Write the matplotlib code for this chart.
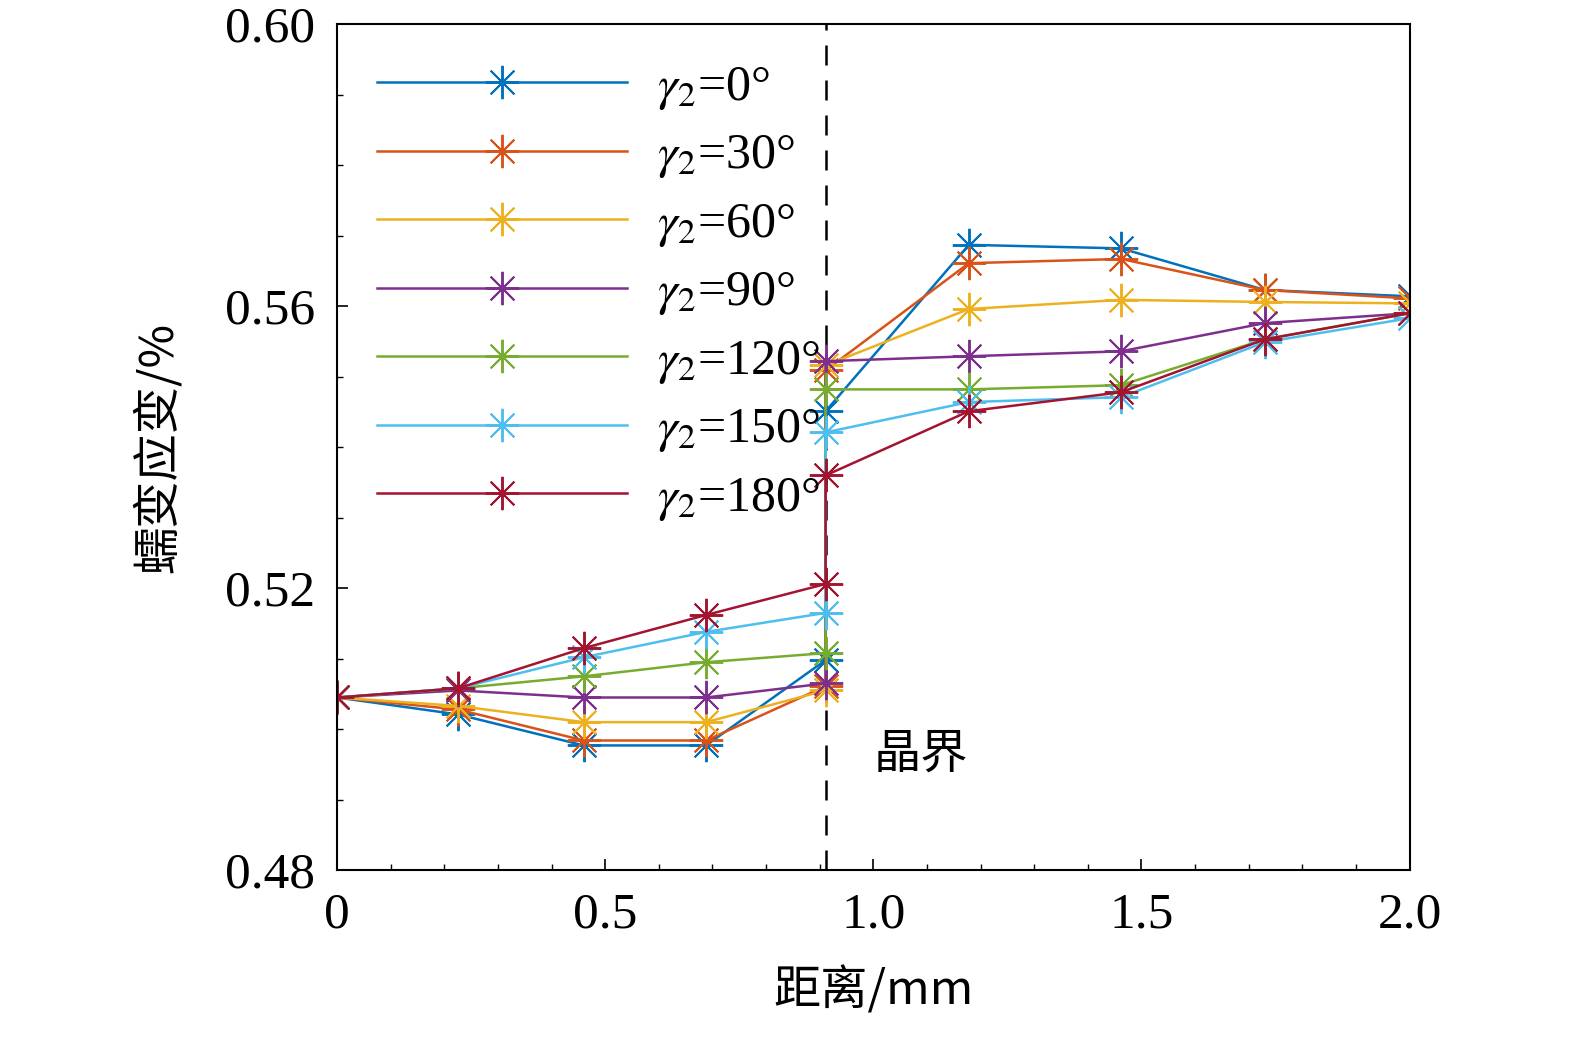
import matplotlib
matplotlib.use("Agg")
import matplotlib.pyplot as plt
from matplotlib.ticker import MultipleLocator

x = [0, 0.2255, 0.46, 0.688, 0.911, 0.911, 1.178, 1.462, 1.73, 2.0]
angles = ["0", "30", "60", "90", "120", "150", "180"]
s0 = [0.5045, 0.5021, 0.4977, 0.4977, 0.5098, 0.5451, 0.5687, 0.5682, 0.5623, 0.5614]
s30 = [0.5045, 0.5028, 0.4984, 0.4984, 0.5061, 0.5509, 0.5661, 0.5667, 0.5623, 0.5611]
s60 = [0.5045, 0.5033, 0.5010, 0.5010, 0.5055, 0.5516, 0.5596, 0.5609, 0.5606, 0.5604]
s90 = [0.5045, 0.5055, 0.5045, 0.5045, 0.5065, 0.5522, 0.5529, 0.5536, 0.5576, 0.5590]
s120 = [0.5045, 0.5058, 0.5075, 0.5095, 0.5108, 0.5482, 0.5482, 0.5488, 0.5553, 0.5590]
s150 = [0.5045, 0.5058, 0.5102, 0.5138, 0.5165, 0.5421, 0.5464, 0.5471, 0.5549, 0.5583]
s180 = [0.5045, 0.5058, 0.5115, 0.5162, 0.5206, 0.5360, 0.5451, 0.5478, 0.5553, 0.5590]
series = [s0, s30, s60, s90, s120, s150, s180]
colors = ["#0072BD", "#D95319", "#EDB120", "#7E2F8E", "#77AC30", "#4DBEEE", "#A2142F"]
gb_x = 0.911

plt.rcParams['font.family'] = ['Liberation Serif', 'Noto Sans CJK SC']
plt.rcParams['mathtext.fontset'] = 'stix'
fig = plt.figure(figsize=(15.75, 10.51), dpi=100)
ax = fig.add_axes([0.214, 0.172, 0.681, 0.805])

ax.axvline(gb_x, color='black', ls=(0, (8, 6)), lw=1.8, zorder=1)
for a, s, c in zip(angles, series, colors):
    ax.plot(x, s, color=c, lw=1.8, marker=(8, 2, 0), markersize=24, markeredgewidth=1.4,
            label=r'$\gamma_2$=' + a + '°')

ax.set_xlim(0, 2.0)
ax.set_ylim(0.48, 0.60)
ax.set_xticks([0, 0.5, 1.0, 1.5, 2.0])
ax.set_xticklabels(['0', '0.5', '1.0', '1.5', '2.0'])
ax.set_yticks([0.48, 0.52, 0.56, 0.60])
ax.xaxis.set_minor_locator(MultipleLocator(0.1))
ax.yaxis.set_minor_locator(MultipleLocator(0.01))
ax.tick_params(which='both', direction='in', labelsize=37, top=False, right=False)
ax.tick_params(which='major', length=8, width=1.2, pad=16)
ax.tick_params(which='minor', length=4, width=1)
for sp in ax.spines.values():
    sp.set_linewidth(1.5)

ax.text(1.0, 0.4945, '晶界', fontsize=34, family=['Noto Sans CJK SC'])
ax.set_xlabel('距离/mm', fontsize=34, family=['Noto Sans CJK SC', 'Liberation Serif'], labelpad=20)
ax.set_ylabel('蠕变应变/%', fontsize=34, family=['Noto Sans CJK SC', 'Liberation Serif'], labelpad=30)

leg = ax.legend(loc='upper left', fontsize=36, frameon=False, handlelength=5.0,
                labelspacing=0.42, borderaxespad=0.4, handletextpad=0.6)
fig.savefig('out.png', dpi=100)
